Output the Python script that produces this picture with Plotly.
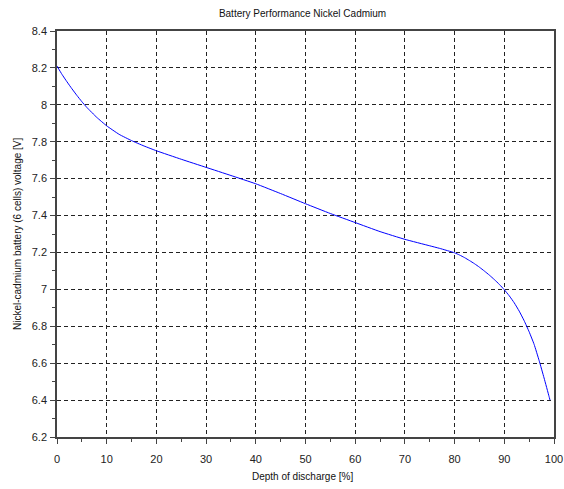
import plotly.graph_objects as go

depth = [0, 1, 2, 3, 4, 5, 6, 8, 10, 12.5, 15, 17.5, 20, 25, 30, 35, 40, 45, 50, 55, 60, 65, 70, 75, 77, 80, 81, 82, 83, 84, 85, 86, 87, 88, 89, 90, 91, 92, 93, 94, 95, 96, 97, 98, 99, 99.2]
voltage = [8.21, 8.165, 8.125, 8.087, 8.051, 8.017, 7.986, 7.932, 7.886, 7.84, 7.806, 7.777, 7.751, 7.705, 7.661, 7.617, 7.572, 7.519, 7.464, 7.411, 7.362, 7.313, 7.271, 7.236, 7.222, 7.198, 7.186, 7.172, 7.156, 7.139, 7.12, 7.099, 7.077, 7.053, 7.027, 6.998, 6.965, 6.927, 6.882, 6.83, 6.77, 6.702, 6.615, 6.52, 6.42, 6.4]

x_ticks = [0, 10, 20, 30, 40, 50, 60, 70, 80, 90, 100]
y_ticks = [6.2, 6.4, 6.6, 6.8, 7.0, 7.2, 7.4, 7.6, 7.8, 8.0, 8.2, 8.4]
y_tick_labels = ["6.2", "6.4", "6.6", "6.8", "7", "7.2", "7.4", "7.6", "7.8", "8", "8.2", "8.4"]

title_text = "Battery Performance Nickel Cadmium"
x_title = "Depth of discharge [%]"
y_title = "Nickel-cadmium battery (6 cells) voltage [V]"

W, H = 564, 489
L, T, R, B = 57, 31, 10, 51.5

fig = go.Figure()
fig.add_trace(go.Scatter(x=depth, y=voltage, mode="lines",
                         line=dict(color="#0000ff", width=1, shape="spline", smoothing=0.4),
                         showlegend=False, hoverinfo="skip"))

font = dict(family="Liberation Sans, Arial, sans-serif", size=11, color="#222")
tfont = dict(family="Liberation Sans, Arial, sans-serif", size=10, color="#111")

fig.update_layout(
    width=W, height=H,
    margin=dict(l=L, r=R, t=T, b=B, pad=0, autoexpand=False),
    paper_bgcolor="white", plot_bgcolor="white",
    title=dict(text=title_text, x=0.494, xanchor="center", xref="paper",
               y=1 - 13 / H, yanchor="middle", automargin=False, font=tfont),
    font=font,
    annotations=[
        dict(text=x_title, xref="paper", yref="paper", x=0.494, y=0,
             yshift=-39.5, xanchor="center", yanchor="middle",
             showarrow=False, font=tfont),
        dict(text=y_title, xref="paper", yref="paper", x=0, y=0.5,
             xshift=-40, xanchor="center", yanchor="middle", textangle=-90,
             showarrow=False, font=tfont),
    ],
)

fig.update_xaxes(
    range=[0, 100], tickvals=x_ticks, ticktext=[str(v) for v in x_ticks],
    showgrid=True, gridcolor="#222", griddash="4px,3px", gridwidth=1,
    showline=True, linecolor="#444", linewidth=1.5, mirror=True,
    ticks="outside", ticklen=5, tickcolor="#444", tickwidth=1,
    minor=dict(dtick=5, tick0=0, ticks="outside", ticklen=3, tickcolor="#444", showgrid=False),
    zeroline=False, automargin=False, ticklabelstandoff=6,
    tickfont=font,
)
fig.update_yaxes(
    range=[6.2, 8.4], tickvals=y_ticks, ticktext=y_tick_labels,
    showgrid=True, gridcolor="#222", griddash="4px,3px", gridwidth=1,
    showline=True, linecolor="#444", linewidth=1.5, mirror=True,
    ticks="outside", ticklen=5, tickcolor="#444", tickwidth=1,
    minor=dict(dtick=0.1, tick0=6.2, ticks="outside", ticklen=3, tickcolor="#444", showgrid=False),
    zeroline=False, automargin=False, ticklabelstandoff=1,
    tickfont=font,
)

fig.write_html("out.html", config={"displayModeBar": False},
               post_script="document.body.style.margin='0';document.body.style.overflow='hidden';")
